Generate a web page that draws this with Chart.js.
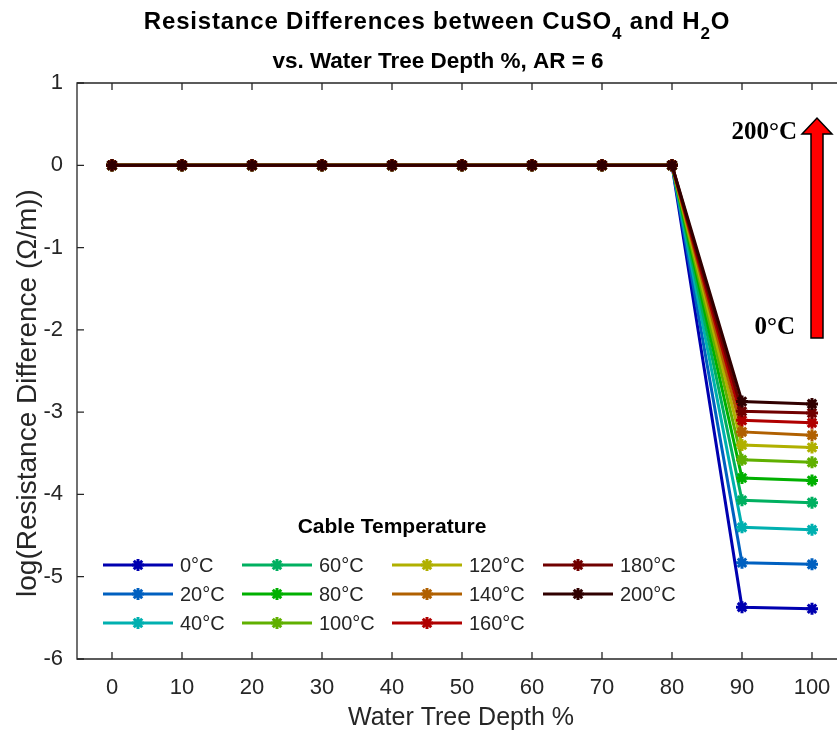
<!DOCTYPE html>
<html>
<head>
<meta charset="utf-8">
<script src="https://cdn.jsdelivr.net/npm/chart.js@4.4.0/dist/chart.umd.min.js"></script>
<style>
  html, body { margin: 0; padding: 0; background: #fff; overflow: hidden; }
  #wrap { width: 837px; height: 733px; overflow: hidden; position: relative; }
  canvas { display: block; }
</style>
</head>
<body>
<div id="wrap"><canvas id="c" width="860" height="733"></canvas></div>
<script>
// Water tree depth (%) along the x axis
const depths = [0, 10, 20, 30, 40, 50, 60, 70, 80, 90, 100];

// Cable temperatures (one line each)
const tempLabels = ['0°C', '20°C', '40°C', '60°C', '80°C', '100°C', '120°C', '140°C', '160°C', '180°C', '200°C'];
const tempColors = ['#0000B0', '#0060C0', '#00B0B0', '#00B060', '#00B000', '#60B000',
                    '#B0B000', '#B06000', '#B00000', '#700000', '#300000'];

// log(resistance difference) for each temperature
const t0   = [0, 0, 0, 0, 0, 0, 0, 0, 0, -5.37, -5.39];
const t20  = [0, 0, 0, 0, 0, 0, 0, 0, 0, -4.83, -4.85];
const t40  = [0, 0, 0, 0, 0, 0, 0, 0, 0, -4.40, -4.43];
const t60  = [0, 0, 0, 0, 0, 0, 0, 0, 0, -4.07, -4.10];
const t80  = [0, 0, 0, 0, 0, 0, 0, 0, 0, -3.80, -3.83];
const t100 = [0, 0, 0, 0, 0, 0, 0, 0, 0, -3.58, -3.61];
const t120 = [0, 0, 0, 0, 0, 0, 0, 0, 0, -3.40, -3.43];
const t140 = [0, 0, 0, 0, 0, 0, 0, 0, 0, -3.24, -3.28];
const t160 = [0, 0, 0, 0, 0, 0, 0, 0, 0, -3.10, -3.13];
const t180 = [0, 0, 0, 0, 0, 0, 0, 0, 0, -2.99, -3.01];
const t200 = [0, 0, 0, 0, 0, 0, 0, 0, 0, -2.87, -2.90];
const seriesValues = [t0, t20, t40, t60, t80, t100, t120, t140, t160, t180, t200];

// Tick positions
const xTicks = [0, 10, 20, 30, 40, 50, 60, 70, 80, 90, 100];
const yTicks = [-6, -5, -4, -3, -2, -1, 0, 1];

// Text
const titleLine1 = [
  { t: 'Resistance Differences between CuSO' }, { t: '4', sub: true },
  { t: ' and H' }, { t: '2', sub: true }, { t: 'O' }
];
const titleLine2 = 'vs. Water Tree Depth %, AR = 6';
const xTitle = 'Water Tree Depth %';
const yTitle = 'log(Resistance Difference (Ω/m))';
const legendTitle = 'Cable Temperature';
const arrowTop = '200°C';
const arrowBottom = '0°C';

const SANS = "'Liberation Sans', Arial, Helvetica, sans-serif";
const SERIF = "'Liberation Serif', 'Times New Roman', serif";
const AXIS = '#262626';

const datasets = seriesValues.map((vals, i) => ({
  label: tempLabels[i],
  data: depths.map((d, j) => ({ x: d, y: vals[j] })),
  borderColor: tempColors[i],
  backgroundColor: tempColors[i],
  pointBackgroundColor: tempColors[i],
  pointBorderColor: tempColors[i],
  borderWidth: 3,
  pointStyle: 'star',
  pointRadius: 6,
  pointBorderWidth: 3,
  tension: 0,
  order: seriesValues.length - 1 - i
}));

function star(ctx, x, y, r) {
  ctx.beginPath();
  for (let k = 0; k < 4; k++) {
    const a = k * Math.PI / 4;
    ctx.moveTo(x - r * Math.cos(a), y - r * Math.sin(a));
    ctx.lineTo(x + r * Math.cos(a), y + r * Math.sin(a));
  }
  ctx.stroke();
}

const decor = {
  id: 'decor',
  afterDraw(chart) {
    const ctx = chart.ctx;
    const a = chart.chartArea;
    const xs = chart.scales.x, ys = chart.scales.y;
    ctx.save();

    // axes box with inward ticks
    ctx.strokeStyle = AXIS;
    ctx.lineWidth = 1.3;
    ctx.beginPath();
    ctx.moveTo(a.left, a.top); ctx.lineTo(a.left, a.bottom); ctx.lineTo(a.right, a.bottom);
    ctx.lineTo(a.right, a.top); ctx.closePath();
    ctx.stroke();
    ctx.beginPath();
    xTicks.forEach(v => {
      const px = xs.getPixelForValue(v);
      ctx.moveTo(px, a.bottom); ctx.lineTo(px, a.bottom - 7);
      ctx.moveTo(px, a.top); ctx.lineTo(px, a.top + 7);
    });
    yTicks.forEach(v => {
      const py = ys.getPixelForValue(v);
      ctx.moveTo(a.left, py); ctx.lineTo(a.left + 7, py);
      ctx.moveTo(a.right, py); ctx.lineTo(a.right - 7, py);
    });
    ctx.stroke();

    // title
    ctx.fillStyle = '#000';
    ctx.textBaseline = 'middle';
    ctx.textAlign = 'left';
    const mainFont = 'bold 24px ' + SANS, subFont = 'bold 17px ' + SANS;
    if ('letterSpacing' in ctx) ctx.letterSpacing = '0.8px';
    let total = 0;
    titleLine1.forEach(p => { ctx.font = p.sub ? subFont : mainFont; p.w = ctx.measureText(p.t).width; total += p.w; });
    let tx = 437 - total / 2;
    titleLine1.forEach(p => {
      ctx.font = p.sub ? subFont : mainFont;
      ctx.fillText(p.t, tx, p.sub ? 34 : 22);
      tx += p.w;
    });
    if ('letterSpacing' in ctx) ctx.letterSpacing = '0px';
    ctx.font = 'bold 22.5px ' + SANS;
    ctx.textAlign = 'center';
    ctx.fillText(titleLine2, 438, 62);

    // axis titles
    ctx.fillStyle = AXIS;
    ctx.font = '25px ' + SANS;
    ctx.fillText(xTitle, 461, 718);
    ctx.save();
    ctx.translate(28, 393);
    ctx.rotate(-Math.PI / 2);
    ctx.font = '28px ' + SANS;
    ctx.fillText(yTitle, 0, 0);
    ctx.restore();

    // legend
    ctx.fillStyle = '#000';
    ctx.font = 'bold 21px ' + SANS;
    ctx.textAlign = 'center';
    ctx.fillText(legendTitle, 392, 527);
    const colX = [103, 242, 392, 543];
    const rowY = [565, 594, 623];
    ctx.font = '20px ' + SANS;
    ctx.textAlign = 'left';
    tempLabels.forEach((lab, i) => {
      const c = Math.floor(i / 3), r = i % 3;
      const x0 = colX[c], y0 = rowY[r];
      ctx.strokeStyle = tempColors[i];
      ctx.lineWidth = 3;
      ctx.beginPath(); ctx.moveTo(x0, y0); ctx.lineTo(x0 + 70, y0); ctx.stroke();
      star(ctx, x0 + 35, y0, 6);
      ctx.fillStyle = AXIS;
      ctx.fillText(lab, x0 + 77, y0 + 1);
    });

    // temperature arrow
    ctx.beginPath();
    ctx.moveTo(811, 338); ctx.lineTo(811, 134); ctx.lineTo(802, 134); ctx.lineTo(817, 118);
    ctx.lineTo(832, 134); ctx.lineTo(823, 134); ctx.lineTo(823, 338); ctx.closePath();
    ctx.fillStyle = '#FF0000'; ctx.fill();
    ctx.strokeStyle = '#000'; ctx.lineWidth = 1.5; ctx.stroke();
    ctx.fillStyle = '#000';
    ctx.font = 'bold 25px ' + SERIF;
    ctx.textAlign = 'right';
    ctx.fillText(arrowTop, 797, 133);
    ctx.fillText(arrowBottom, 795, 328);

    ctx.restore();
  }
};

new Chart(document.getElementById('c'), {
  type: 'line',
  data: { datasets },
  options: {
    responsive: false,
    animation: false,
    devicePixelRatio: 1,
    layout: { padding: { top: 83, right: 13, left: 0, bottom: 0 } },
    plugins: { legend: { display: false }, title: { display: false }, tooltip: { enabled: false } },
    scales: {
      x: {
        type: 'linear', min: -5, max: 105,
        afterBuildTicks: s => { s.ticks = xTicks.map(v => ({ value: v })); },
        afterFit: s => { s.height = 74; },
        grid: { display: false, drawTicks: false },
        border: { display: false },
        ticks: { color: AXIS, font: { family: SANS, size: 22 }, padding: 16, maxRotation: 0 }
      },
      y: {
        type: 'linear', min: -6, max: 1,
        afterBuildTicks: s => { s.ticks = yTicks.map(v => ({ value: v })); },
        afterFit: s => { s.width = 77; },
        grid: { display: false, drawTicks: false },
        border: { display: false },
        ticks: { color: AXIS, font: { family: SANS, size: 22 }, padding: 14 }
      }
    }
  },
  plugins: [decor]
});
</script>
</body>
</html>
